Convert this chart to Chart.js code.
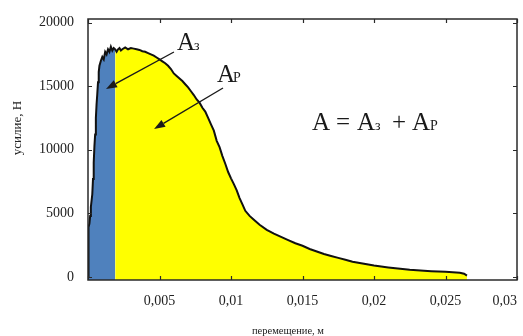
<!DOCTYPE html>
<html>
<head>
<meta charset="utf-8">
<script src="https://cdn.jsdelivr.net/npm/chart.js@4/dist/chart.umd.min.js"></script>
<style>
  html, body { margin: 0; padding: 0; background: #fff; }
  #wrap { width: 523px; height: 336px; }
</style>
</head>
<body>
<div id="wrap"><canvas id="c" width="523" height="336"></canvas></div>
<script>
// Force–displacement record of the test specimen
const displacement = [
  0, 0.00002, 0.00005, 0.0001, 0.00015, 0.0002, 0.00025, 0.0003, 0.00035, 0.0004,
  0.00045, 0.0005, 0.00055, 0.0006, 0.00065, 0.0007, 0.00075, 0.0008, 0.0009, 0.001,
  0.0011, 0.0012, 0.0013, 0.0014, 0.0015, 0.0016, 0.0017, 0.0018, 0.0019, 0.002,
  0.0021, 0.0022, 0.0023, 0.0024, 0.0026, 0.0028, 0.003, 0.0032, 0.0034, 0.0036,
  0.0038, 0.004, 0.0042, 0.0044, 0.0046, 0.0048, 0.005, 0.0052, 0.0054, 0.0056,
  0.0058, 0.006, 0.0062, 0.0064, 0.0066, 0.0068, 0.007, 0.0072, 0.0074, 0.0076,
  0.0078, 0.008, 0.0082, 0.0084, 0.0086, 0.0088, 0.009, 0.0092, 0.0094, 0.0096,
  0.0098, 0.01, 0.0102, 0.0104, 0.0106, 0.0108, 0.011, 0.0113, 0.0116, 0.012,
  0.0125, 0.013, 0.0135, 0.014, 0.0145, 0.015, 0.0155, 0.016, 0.0165, 0.017,
  0.0175, 0.018, 0.0185, 0.019, 0.0195, 0.02, 0.0205, 0.021, 0.0215, 0.022,
  0.0225, 0.023, 0.0235, 0.024, 0.0245, 0.025, 0.0255, 0.026, 0.0263, 0.0265
];
const force = [
  0, 2000, 3900, 4200, 4800, 5500, 6000, 6500, 7700, 9000,
  10300, 11200, 12500, 13600, 14400, 15300, 16100, 16600, 17000, 17300,
  17100, 17700, 17500, 17900, 17700, 18100, 17800, 18000, 17900, 17700,
  17900, 18000, 17800, 17900, 18050, 17900, 18000, 17950, 17900, 17850,
  17750, 17700, 17600, 17500, 17400, 17250, 17100, 16950, 16800, 16600,
  16350, 16000, 15800, 15600, 15400, 15150, 14900, 14600, 14300, 13950,
  13700, 13300, 13000, 12500, 12000, 11500, 10700, 10200, 9500, 8900,
  8250, 7750, 7300, 6800, 6200, 5700, 5200, 4800, 4500, 4100,
  3700, 3400, 3150, 2900, 2650, 2450, 2200, 2000, 1800, 1650,
  1500, 1350, 1200, 1100, 1000, 900, 820, 750, 680, 620,
  560, 520, 480, 450, 420, 400, 370, 330, 250, 100
];
// displacement separating the two work areas Aз and AP
const splitDisplacement = 0.0019;

const xTickValues = [0, 0.005, 0.01, 0.015, 0.02, 0.025, 0.03];
const xTickLabels = ['', '0,005', '0,01', '0,015', '0,02', '0,025', '0,03'];
const yTickValues = [0, 5000, 10000, 15000, 20000];
const yTickLabels = ['0', '5000', '10000', '15000', '20000'];
const xAxisTitle = 'перемещение, м';
const yAxisTitle = 'усилие, Н';

const X_MIN = 0, X_MAX = 0.03, Y_MIN = -240, Y_MAX = 20280;

const curve = displacement.map((x, i) => ({ x: x, y: force[i] }));
const areaElastic = curve.filter(p => p.x <= splitDisplacement);
const areaPlastic = curve.filter(p => p.x >= splitDisplacement);

const SERIF = '"Liberation Serif", "Times New Roman", serif';
const INK = '#1a1a1a';

// frame, inward tick marks, axis titles, area labels and arrows
const decorations = {
  id: 'decorations',
  afterDraw(chart) {
    const { ctx, chartArea: a, scales: { x, y } } = chart;
    ctx.save();
    // frame
    ctx.strokeStyle = '#2a2a2a';
    ctx.lineWidth = 1.5;
    ctx.strokeRect(a.left, a.top, a.right - a.left, a.bottom - a.top);
    // inward ticks on all four sides
    ctx.lineWidth = 1.2;
    ctx.beginPath();
    xTickValues.forEach(v => {
      const px = Math.round(x.getPixelForValue(v)) + 0.5;
      ctx.moveTo(px, a.bottom); ctx.lineTo(px, a.bottom - 4);
      ctx.moveTo(px, a.top); ctx.lineTo(px, a.top + 4);
    });
    yTickValues.forEach(v => {
      const py = Math.round(y.getPixelForValue(v)) + 0.5;
      ctx.moveTo(a.left, py); ctx.lineTo(a.left + 4, py);
      ctx.moveTo(a.right, py); ctx.lineTo(a.right - 4, py);
    });
    ctx.stroke();

    // axis titles
    ctx.fillStyle = '#222';
    ctx.textAlign = 'center';
    ctx.textBaseline = 'middle';
    ctx.font = '10.5px ' + SERIF;
    ctx.fillText(xAxisTitle, a.left + 200, a.bottom + 51);
    ctx.save();
    ctx.translate(a.left - 70, a.top + 109);
    ctx.rotate(-Math.PI / 2);
    ctx.font = '13px ' + SERIF;
    ctx.fillText(yAxisTitle, 0, 0);
    ctx.restore();

    // arrows
    const arrow = (x0, y0, x1, y1) => {
      const sx = x.getPixelForValue(x0), sy = y.getPixelForValue(y0);
      const ex = x.getPixelForValue(x1), ey = y.getPixelForValue(y1);
      const ang = Math.atan2(ey - sy, ex - sx);
      const len = 11, half = 4;
      const bx = ex - len * Math.cos(ang), by = ey - len * Math.sin(ang);
      ctx.strokeStyle = INK;
      ctx.lineWidth = 1.4;
      ctx.beginPath();
      ctx.moveTo(sx, sy); ctx.lineTo(bx, by);
      ctx.stroke();
      ctx.fillStyle = INK;
      ctx.beginPath();
      ctx.moveTo(ex, ey);
      ctx.lineTo(bx + half * Math.sin(ang), by - half * Math.cos(ang));
      ctx.lineTo(bx - half * Math.sin(ang), by + half * Math.cos(ang));
      ctx.closePath();
      ctx.fill();
    };
    arrow(0.00601, 17686, 0.00126, 14777);
    arrow(0.00944, 14855, 0.00462, 11632);

    // labels: large "A" with a small index letter on the same baseline
    ctx.fillStyle = INK;
    ctx.textBaseline = 'alphabetic';
    ctx.textAlign = 'left';
    const big = '25px ' + SERIF, small = '14px ' + SERIF;
    const pieces = (x0, y0, parts) => {
      const bx = x.getPixelForValue(x0), by = y.getPixelForValue(y0);
      parts.forEach(p => {
        ctx.font = p.small ? small : big;
        ctx.fillText(p.t, bx + p.dx, by);
      });
    };
    pieces(0.00622, 17843, [{ t: 'A', dx: 0 }, { t: 'з', dx: 17, small: true }]);
    pieces(0.00902, 15327, [{ t: 'A', dx: 0 }, { t: 'P', dx: 16, small: true }]);
    pieces(0.01566, 11553, [
      { t: 'A', dx: 0 }, { t: '=', dx: 24 }, { t: 'A', dx: 45 },
      { t: 'з', dx: 63, small: true }, { t: '+', dx: 80 },
      { t: 'A', dx: 100 }, { t: 'P', dx: 118, small: true }
    ]);
    ctx.restore();
  }
};

new Chart(document.getElementById('c'), {
  type: 'line',
  data: {
    datasets: [
      {
        label: 'усилие',
        data: curve,
        borderColor: '#111',
        borderWidth: 2,
        pointRadius: 0,
        fill: false,
        tension: 0,
        order: 0
      },
      {
        label: 'Aз',
        data: areaElastic,
        borderWidth: 0,
        borderColor: 'rgba(0,0,0,0)',
        backgroundColor: '#4f81bd',
        pointRadius: 0,
        fill: { value: Y_MIN },
        tension: 0,
        order: 1
      },
      {
        label: 'AP',
        data: areaPlastic,
        borderWidth: 0,
        borderColor: 'rgba(0,0,0,0)',
        backgroundColor: '#ffff00',
        pointRadius: 0,
        fill: { value: Y_MIN },
        tension: 0,
        order: 2
      }
    ]
  },
  options: {
    responsive: false,
    devicePixelRatio: 1,
    animation: false,
    layout: { padding: { top: 19, right: 6, left: 0, bottom: 0 } },
    plugins: { legend: { display: false }, tooltip: { enabled: false } },
    scales: {
      x: {
        type: 'linear',
        min: X_MIN,
        max: X_MAX,
        afterBuildTicks: s => { s.ticks = xTickValues.map(v => ({ value: v })); },
        afterFit: s => { s.height = 56; s.paddingLeft = 0; s.paddingRight = 0; },
        grid: { display: false, drawTicks: false },
        border: { display: false },
        ticks: {
          autoSkip: false,
          maxRotation: 0,
          align: 'inner',
          padding: 13,
          color: '#222',
          font: { family: SERIF, size: 14 },
          callback: (v, i) => xTickLabels[i]
        },
        title: { display: false }
      },
      y: {
        type: 'linear',
        min: Y_MIN,
        max: Y_MAX,
        afterBuildTicks: s => { s.ticks = yTickValues.map(v => ({ value: v })); },
        afterFit: s => { s.width = 88; s.paddingTop = 0; s.paddingBottom = 0; },
        grid: { display: false, drawTicks: false },
        border: { display: false },
        ticks: {
          padding: 14,
          color: '#222',
          font: { family: SERIF, size: 14 },
          callback: (v, i) => yTickLabels[i]
        },
        title: { display: false }
      }
    }
  },
  plugins: [decorations]
});
</script>
</body>
</html>
